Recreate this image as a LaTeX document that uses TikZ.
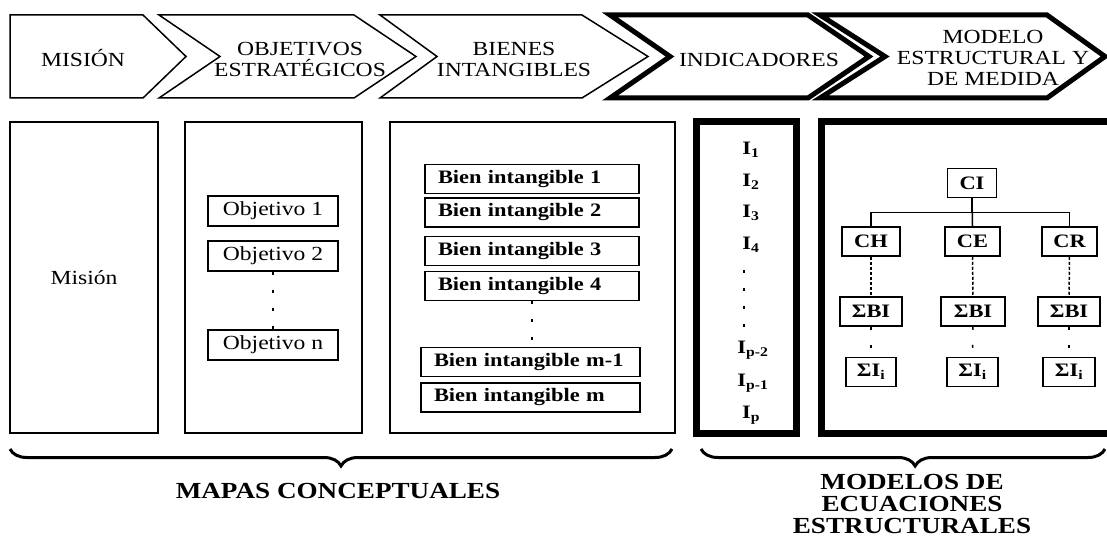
\documentclass[tikz,border=0pt]{standalone}
\usepackage{fontspec}
\setmainfont{Liberation Serif}[FakeStretch=1.18]
\usetikzlibrary{positioning,decorations.pathreplacing}

\begin{document}
\begin{tikzpicture}[x=1pt,y=-1pt,font=\fontsize{20}{23}\selectfont,
 chev/.style={draw=black,line width=1.5pt,line join=miter},
 chevbold/.style={draw=black,line width=5pt,line join=miter},
 head/.style={align=center,inner sep=0pt,font=\fontsize{20}{21}\selectfont},
 panel/.style={draw=black,line width=2pt,minimum height=311pt,inner sep=0pt},
 panelbold/.style={draw=black,line width=7pt,minimum height=312pt,inner sep=0pt},
 box/.style={draw=black,line width=1.5pt,minimum height=30pt,inner sep=0pt},
 bibox/.style={box,minimum height=29pt,font=\bfseries\fontsize{19}{22}\selectfont,text width=188pt,inner xsep=13pt,align=left},
 tbox/.style={box,minimum height=29pt,font=\bfseries\fontsize{19}{22}\selectfont},
 ind/.style={inner sep=1pt,font=\bfseries\fontsize{19}{22}\selectfont},
 tree/.style={line width=1.5pt},
 dense/.style={line width=1.5pt,dash pattern=on 3pt off 2pt},
 sparse/.style={line width=1.5pt,dash pattern=on 3pt off 15pt},
 brc/.style={line width=3pt,decorate,decoration={brace,mirror,amplitude=17pt}},
 lab/.style={align=center,inner sep=0pt,font=\bfseries\fontsize{23}{22}\selectfont}]
\useasboundingbox (0,0) rectangle (1107,540);

% process chevrons
\draw[chev] (10,15) -- (143,15) -- (186,56.5) -- (143,98) -- (10,98) -- cycle;
\draw[chev] (159,15) -- (354,15) -- (416,56.5) -- (354,98) -- (159,98) -- (220,56.5) -- cycle;
\draw[chev] (380,15) -- (582,15) -- (648,56.5) -- (582,98) -- (380,98) -- (437,56.5) -- cycle;
\draw[chevbold] (610,15) -- (808,15) -- (869,56.5) -- (808,98) -- (610,98) -- (670,56.5) -- cycle;
\draw[chevbold] (820,15) -- (1047,15) -- (1105,56.5) -- (1047,98) -- (820,98) -- (885,56.5) -- cycle;
\node[head] (mhead) at (83,58) {MISIÓN};
\node[head] (ohead) at (300,59.5) {OBJETIVOS\\ESTRATÉGICOS};
\node[head] (bhead) at (514,59.5) {BIENES\\INTANGIBLES};
\node[head] (ihead) at (759,60) {INDICADORES};
\node[head] (ehead) at (993,58) {MODELO\\ESTRUCTURAL Y\\DE MEDIDA};

% panels
\node[panel,minimum width=148pt] (mision) at (84,277.5) {Misión};
\node[panel,minimum width=177pt] (objpanel) at (273.5,277.5) {};
\node[panel,minimum width=285pt] (bipanel) at (532.5,277.5) {};
\node[panelbold,minimum width=100pt] (indpanel) at (746.5,277.5) {};
\node[panelbold,minimum width=294pt] (sempanel) at (968.5,277.5) {};

% objetivos
\node[box,minimum width=130pt] (ob1) at (273,211) {Objetivo 1};
\node[box,minimum width=130pt] (ob2) at (273,256) {Objetivo 2};
\node[box,minimum width=130pt] (obn) at (273,345) {Objetivo n};
\draw[sparse] (ob2) -- (obn);

% bienes intangibles
\node[bibox] (bi1) at (532,179) {Bien intangible 1};
\node[bibox] (bi2) at (532,212.5) {Bien intangible 2};
\node[bibox] (bi3) at (532,251) {Bien intangible 3};
\node[bibox] (bi4) at (532,286) {Bien intangible 4};
\node[bibox,text width=193pt] (bim1) at (530.5,362) {Bien intangible m-1};
\node[bibox,text width=193pt] (bim) at (530.5,397.5) {Bien intangible m};
\draw[sparse] (bi4.south) -- (bi4.south |- bim1.north);

% indicadores
\node[ind] (i1) at (751,150) {I\textsubscript{1}};
\node[ind] (i2) at (751,182) {I\textsubscript{2}};
\node[ind] (i3) at (751,213) {I\textsubscript{3}};
\node[ind] (i4) at (751,245) {I\textsubscript{4}};
\node[ind] (ipb) at (753,350) {I\textsubscript{p-2}};
\node[ind] (ipa) at (753,383) {I\textsubscript{p-1}};
\node[ind] (ip) at (751,415) {I\textsubscript{p}};
\draw[sparse,shorten <=16pt,shorten >=5pt] ([xshift=-7pt]i4.south) -- ([xshift=-7pt]i4.south |- ipb.north);

% modelo estructural
\node[tbox,minimum width=49pt] (ci) at (972,183) {CI};
\node[tbox,minimum width=58pt] (ch) at (871,241.5) {CH};
\node[tbox,minimum width=55pt] (ce) at (972.5,241.5) {CE};
\node[tbox,minimum width=55pt] (cr) at (1069.5,241.5) {CR};
\node[tbox,minimum width=62pt] (sbh) at (871,311.5) {ΣBI};
\node[tbox,minimum width=64pt] (sbe) at (973,311.5) {ΣBI};
\node[tbox,minimum width=62pt] (sbr) at (1069,311.5) {ΣBI};
\node[tbox,minimum width=50pt] (sih) at (871,372) {ΣI\textsubscript{i}};
\node[tbox,minimum width=51pt] (sie) at (972.5,372) {ΣI\textsubscript{i}};
\node[tbox,minimum width=52pt] (sir) at (1069,372) {ΣI\textsubscript{i}};
\draw[tree] (ci.south) -- ++(0,14) -| (ch.north);
\draw[tree] (ci.south) -- ++(0,14) -| (cr.north);
\draw[tree] (ci.south) -- (ce.north);
\foreach \a/\b/\c in {ch/sbh/sih,ce/sbe/sie,cr/sbr/sir}{
 \draw[dense] (\a) -- (\b);
 \draw[sparse] (\b) -- (\c);
}

% braces and group labels
\draw[brc] (10,449) -- (672,449);
\draw[brc,decoration={aspect=0.53}] (701,449) -- (1105,449);
\node[lab] (maps) at (338,491) {MAPAS CONCEPTUALES};
\node[lab] (sem) at (912,504) {MODELOS DE\\ECUACIONES\\ESTRUCTURALES};
\end{tikzpicture}
\end{document}
